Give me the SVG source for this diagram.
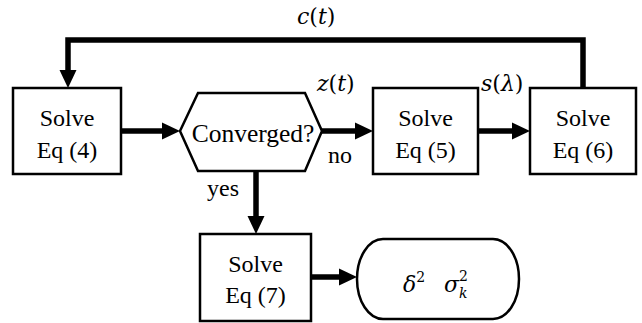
<svg xmlns="http://www.w3.org/2000/svg" width="642" height="323" viewBox="0 0 642 323">
<style>
.node{fill:#fff;stroke:#000;stroke-width:2.5}
.c{stroke:#000;stroke-width:5.5;fill:none}
.h{fill:#000;stroke:none}
.t{font-family:'Liberation Serif',serif;font-size:24px;fill:#000;text-anchor:middle}
.big{font-size:25.5px}
.m{font-family:'DejaVu Serif',serif;font-size:22px;fill:#000}
.s{font-size:14px}
.i{font-style:italic}
</style>
<rect width="642" height="323" fill="#fff"/>
<g id="connectors">
<line class="c" x1="121" y1="131" x2="164" y2="131"/>
<polygon class="h" points="162,122.5 180,131 162,139.5"/>
<line class="c" x1="322" y1="131" x2="357" y2="131"/>
<polygon class="h" points="355,122.5 373,131 355,139.5"/>
<line class="c" x1="478" y1="131" x2="514" y2="131"/>
<polygon class="h" points="512,122.5 530,131 512,139.5"/>
<polyline class="c" points="583,88 583,40 68,40 68,72"/>
<polygon class="h" points="59.5,70 76.5,70 68,88"/>
<line class="c" x1="256" y1="171" x2="256" y2="218"/>
<polygon class="h" points="247.5,216 264.5,216 256,234"/>
<line class="c" x1="311" y1="277" x2="341" y2="277"/>
<polygon class="h" points="339,268.5 357,277 339,285.5"/>
<text class="m" x="297" y="24"><tspan class="i">c</tspan>(<tspan class="i">t</tspan>)</text>
<text class="m" x="317" y="91"><tspan class="i">z</tspan>(<tspan class="i">t</tspan>)</text>
<text class="m" x="481" y="91"><tspan class="i">s</tspan>(<tspan class="i">λ</tspan>)</text>
<text class="t" x="340" y="163">no</text>
<text class="t" x="223" y="196">yes</text>
</g>
<g id="eq4">
<rect class="node" x="13" y="88" width="108" height="86"/>
<text class="t" x="67" y="126">Solve</text>
<text class="t" x="67" y="158">Eq (4)</text>
</g>
<g id="converged">
<polygon class="node" points="180,131 198,93 305,93 322,131 305,171 198,171"/>
<text class="t big" x="253" y="142">Converged?</text>
</g>
<g id="eq5">
<rect class="node" x="373" y="88" width="105" height="86"/>
<text class="t" x="425.5" y="126">Solve</text>
<text class="t" x="425.5" y="158">Eq (5)</text>
</g>
<g id="eq6">
<rect class="node" x="530" y="88" width="106" height="86"/>
<text class="t" x="583" y="126">Solve</text>
<text class="t" x="583" y="158">Eq (6)</text>
</g>
<g id="eq7">
<rect class="node" x="200" y="234" width="111" height="87"/>
<text class="t" x="255.5" y="272">Solve</text>
<text class="t" x="255.5" y="303">Eq (7)</text>
</g>
<g id="result">
<rect class="node" x="357" y="239" width="162" height="80" rx="26" ry="40"/>
<text class="m" x="403" y="292"><tspan class="i">δ</tspan><tspan class="s" dy="-10">2</tspan></text>
<text class="m i" x="444" y="292">σ</text>
<text class="m s i" x="459" y="298">k</text>
<text class="m s" x="459" y="281">2</text>
</g>
</svg>
